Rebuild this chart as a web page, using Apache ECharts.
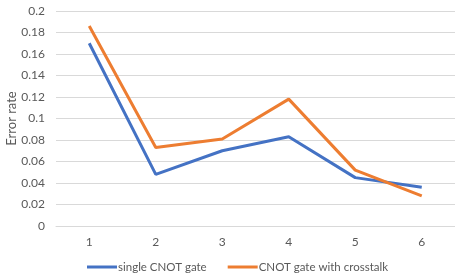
<!DOCTYPE html>
<html lang="en">
<head>
    <meta charset="UTF-8">
    <title>Error rate</title>
    <script src="https://cdn.jsdelivr.net/npm/echarts@6/dist/echarts.min.js"></script>
    <style>
        html, body { margin: 0; padding: 0; background: #fff; }
        #chart { width: 455px; height: 280px; }
    </style>
</head>
<body>
<div id="chart"></div>
<script>
    let categories = ['1', '2', '3', '4', '5', '6'];
    let singleGate = [0.170, 0.048, 0.070, 0.083, 0.045, 0.036];
    let crosstalkGate = [0.186, 0.073, 0.081, 0.118, 0.052, 0.028];

    let myChart = echarts.init(document.getElementById('chart'));
    let font = 'Lato, "Open Sans", sans-serif';
    let option = {
        animation: false,
        color: ['#4472c4', '#ed7d31'],
        grid: {left: 56, right: 0, top: 11, bottom: 54, outerBoundsMode: 'none', containLabel: false},
        legend: {
            left: 87,
            top: 261,
            padding: 0,
            itemWidth: 30,
            itemHeight: 3,
            itemGap: 21,
            icon: 'rect',
            textStyle: {color: '#595959', fontSize: 11.5, fontFamily: font, padding: [0, 0, 0, -4]},
            data: ['single CNOT gate', 'CNOT gate with crosstalk']
        },
        xAxis: {
            type: 'category',
            data: categories,
            boundaryGap: true,
            axisLine: {lineStyle: {color: '#d9d9d9'}},
            axisTick: {show: false},
            axisLabel: {color: '#595959', fontSize: 12, fontFamily: font, margin: 10}
        },
        yAxis: {
            type: 'value',
            min: 0,
            max: 0.2,
            interval: 0.02,
            name: 'Error rate',
            nameLocation: 'middle',
            nameGap: 38,
            nameMoveOverlap: false,
            nameTextStyle: {color: '#595959', fontSize: 13, fontFamily: font},
            axisLine: {show: false},
            axisTick: {show: false},
            axisLabel: {color: '#595959', fontSize: 12, fontFamily: font, margin: 11},
            splitLine: {lineStyle: {color: '#d9d9d9'}}
        },
        series: [
            {
                name: 'single CNOT gate',
                type: 'line',
                data: singleGate,
                symbol: 'none',
                lineStyle: {width: 3}
            },
            {
                name: 'CNOT gate with crosstalk',
                type: 'line',
                data: crosstalkGate,
                symbol: 'none',
                lineStyle: {width: 3}
            }
        ]
    };
    myChart.setOption(option);
</script>
</body>
</html>
